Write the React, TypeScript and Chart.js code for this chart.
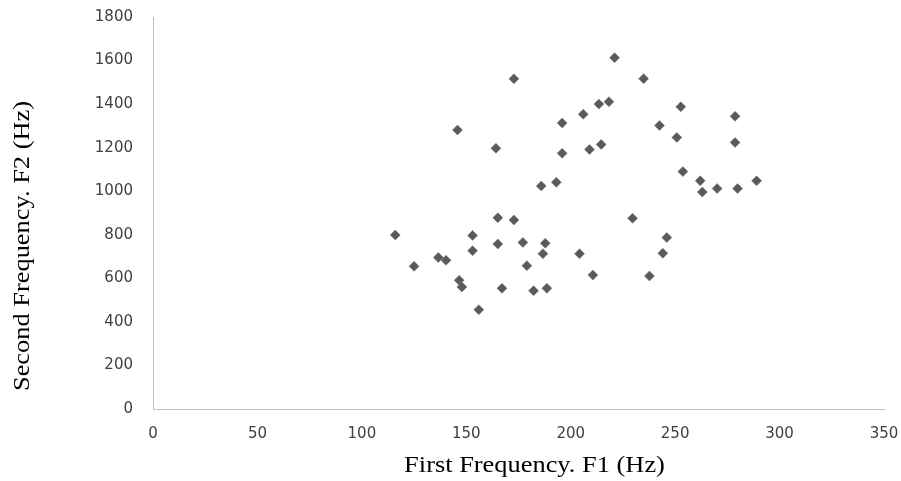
import React, { useEffect, useRef } from "react";
import { Chart, registerables } from "chart.js";

Chart.register(...registerables);

const f1Values = [
  116, 125, 136.6, 140.3, 145.8, 146.6, 147.9, 153, 153, 156,
  164.2, 165.1, 165.1, 167.1, 172.8, 172.8, 177.1, 179, 182.2, 185.9,
  186.7, 187.8, 188.6, 193.1, 195.9, 195.9, 204.2, 206, 209, 210.6,
  213.5, 214.6, 218.3, 221, 229.6, 234.9, 237.7, 242.5, 244.1, 246,
  250.8, 252.7, 253.7, 262, 263, 270.1, 278.7, 278.7, 279.9, 289,
];
const f2Values = [
  799, 655, 696, 683, 1281, 591, 560, 797, 727, 456,
  1197, 878, 758, 554, 1516, 868, 765, 658, 543, 1024,
  713, 761, 554, 1041, 1313, 1174, 713, 1354, 1192, 615,
  1400, 1215, 1411, 1613, 876, 1517, 611, 1302, 715, 787,
  1247, 1388, 1090, 1048, 996, 1012, 1344, 1224, 1012, 1048,
];
const xTitle = "First Frequency. F1 (Hz)";
const yTitle = "Second Frequency. F2 (Hz)";
const xMin = 0, xMax = 350, xStep = 50;
const yMin = 0, yMax = 1800, yStep = 200;

const axisTitlesPlugin = {
  id: "axisTitles",
  afterDraw(chart: any) {
    const { ctx, chartArea } = chart;
    ctx.save();
    ctx.font = "24px 'Liberation Serif', 'Times New Roman', serif";
    ctx.fillStyle = "#000";
    ctx.textAlign = "center";
    ctx.textBaseline = "alphabetic";
    // x title
    ctx.save();
    ctx.translate((chartArea.left + chartArea.right) / 2 + 16, chartArea.bottom + 63);
    ctx.scale(1.1, 1);
    ctx.fillText(xTitle, 0, 0);
    ctx.restore();
    // y title
    ctx.save();
    ctx.translate(29, (chartArea.top + chartArea.bottom) / 2 + 33);
    ctx.rotate(-Math.PI / 2);
    ctx.scale(1.1, 1);
    ctx.fillText(yTitle, 0, 0);
    ctx.restore();
    ctx.restore();
  },
};

export default function App() {
  const ref = useRef<HTMLCanvasElement | null>(null);
  useEffect(() => {
    if (!ref.current) return;
    const points = f1Values.map((x, i) => ({ x, y: f2Values[i] }));
    const tickFont = { family: "'DejaVu Sans', sans-serif", size: 15 };
    const resetPad = (s: any) => {
      s.paddingTop = 0;
      s.paddingBottom = 0;
      s.paddingLeft = 0;
      s.paddingRight = 0;
    };
    const chart = new Chart(ref.current, {
      type: "scatter",
      data: {
        datasets: [
          {
            data: points,
            pointStyle: "rectRot",
            pointRadius: 5,
            backgroundColor: "#5a5a5a",
            borderColor: "#6e6e6e",
            borderWidth: 0.5,
          },
        ],
      },
      options: {
        animation: false,
        responsive: false,
        maintainAspectRatio: false,
        layout: { padding: { top: 17, right: 17, left: 0, bottom: 0 } },
        plugins: { legend: { display: false }, tooltip: { enabled: false } },
        scales: {
          x: {
            type: "linear",
            min: xMin,
            max: xMax,
            grid: { display: false, drawTicks: false },
            border: { display: true, color: "#bfbfbf", width: 1 },
            ticks: {
              stepSize: xStep,
              color: "#404040",
              font: tickFont,
              padding: 16,
              maxRotation: 0,
              callback: (v: any) => String(v),
            },
            title: { display: false, text: xTitle },
            afterFit: (s: any) => {
              s.height = 72;
              resetPad(s);
            },
          },
          y: {
            type: "linear",
            min: yMin,
            max: yMax,
            grid: { display: false, drawTicks: false },
            border: { display: true, color: "#bfbfbf", width: 1 },
            ticks: {
              stepSize: yStep,
              color: "#404040",
              font: tickFont,
              padding: 20,
              callback: (v: any) => String(v),
            },
            title: { display: false, text: yTitle },
            afterFit: (s: any) => {
              s.width = 153;
              resetPad(s);
            },
          },
        },
      },
      plugins: [axisTitlesPlugin],
    });
    return () => chart.destroy();
  }, []);
  return (
    <div style={{ position: "fixed", left: 0, top: 0, width: 901, height: 481, background: "#fff" }}>
      <canvas ref={ref} width={901} height={481} style={{ width: 901, height: 481, display: "block" }} />
    </div>
  );
}
